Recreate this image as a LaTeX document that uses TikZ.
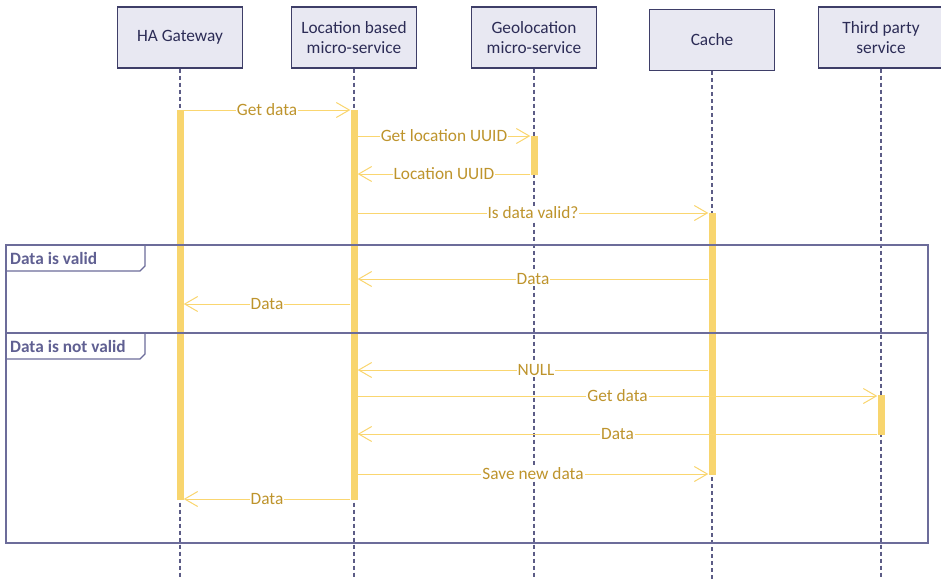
\documentclass[tikz,border=0pt]{standalone}
\usepackage{fontspec}
\setmainfont{Carlito}
\usetikzlibrary{arrows.meta}

\definecolor{hdrfill}{RGB}{232,232,242}
\definecolor{hdrline}{RGB}{62,62,104}
\definecolor{hdrtext}{RGB}{44,44,86}
\definecolor{lifeclr}{RGB}{92,92,134}
\definecolor{actclr}{RGB}{248,213,110}
\definecolor{msgline}{RGB}{250,214,112}
\definecolor{msgtext}{RGB}{190,148,44}
\definecolor{frameclr}{RGB}{108,108,154}
\definecolor{tabtext}{RGB}{96,96,146}

\begin{document}
\begin{tikzpicture}[x=1pt,y=-1pt,
  header/.style={draw=hdrline, fill=hdrfill, line width=1.1pt,
    minimum width=125pt, minimum height=61pt, inner sep=0pt,
    align=center, text=hdrtext, font=\fontsize{17.3}{20}\selectfont},
  lifeline/.style={draw=lifeclr, line width=1.2pt, dash pattern=on 4pt off 3pt},
  actbar/.style={fill=actclr, draw=none, minimum width=7pt, inner sep=0pt, anchor=north},
  msg/.style={draw=msgline, line width=1pt,
    -{Straight Barb[length=13pt,width=15pt,line width=1pt]}},
  msglabel/.style={fill=white, text=msgtext, inner sep=1pt,
    font=\fontsize{17.3}{20}\selectfont},
  frameline/.style={draw=frameclr, line width=1.8pt},
  tablabel/.style={text=tabtext, anchor=west, inner sep=0pt,
    font=\fontsize{17.3}{20}\selectfont\bfseries}
]
\clip (0,0) rectangle (941,579);
\fill[white] (0,0) rectangle (941,579);

% participants
\node[header] (ha)    at (180,37.5) {HA Gateway};
\node[header] (loc)   at (354,37.5) {Location based\\micro-service};
\node[header] (geo)   at (534,37.5) {Geolocation\\micro-service};
\node[header] (cache) at (712,40)   {Cache};
\node[header] (third) at (881,37.5) {Third party\\service};

% lifeline ends
\coordinate (haEnd)    at (180,579);
\coordinate (locEnd)   at (354,579);
\coordinate (geoEnd)   at (534,579);
\coordinate (cacheEnd) at (712,579);
\coordinate (thirdEnd) at (881,579);

\draw[lifeline] (ha.south)    -- (haEnd);
\draw[lifeline] (loc.south)   -- (locEnd);
\draw[lifeline] (geo.south)   -- (geoEnd);
\draw[lifeline] (cache.south) -- (cacheEnd);
\draw[lifeline] (third.south) -- (thirdEnd);

% activation bars
\node[actbar, minimum height=390pt] (haAct)    at (180,110) {};
\node[actbar, minimum height=390pt] (locAct)   at (354,110) {};
\node[actbar, minimum height=39pt]  (geoAct)   at (534,136) {};
\node[actbar, minimum height=262pt] (cacheAct) at (712,213) {};
\node[actbar, minimum height=40pt]  (thirdAct) at (881,395) {};

% combined fragment
\draw[frameline] (6,245) rectangle (928,543);
\draw[frameline] (6,333) -- (928,333);
\draw[frameline, line width=1.2pt] (145,245) -- (145,266) -- (140,271) -- (6,271);
\draw[frameline, line width=1.2pt] (145,333) -- (145,354) -- (140,359) -- (6,359);
\node[tablabel] (validTab)    at (10,258) {Data is valid};
\node[tablabel] (notValidTab) at (10,346) {Data is not valid};

% message rows
\coordinate (m1)  at (0,110);
\coordinate (m2)  at (0,136);
\coordinate (m3)  at (0,174);
\coordinate (m4)  at (0,213);
\coordinate (m5)  at (0,279);
\coordinate (m6)  at (0,304);
\coordinate (m7)  at (0,370);
\coordinate (m8)  at (0,396);
\coordinate (m9)  at (0,434);
\coordinate (m10) at (0,474);
\coordinate (m11) at (0,499);

% messages
\draw[msg] (haAct.east |- m1)    -- node[msglabel] {Get data}          (locAct.west |- m1);
\draw[msg] (locAct.east |- m2)   -- node[msglabel] {Get location UUID} (geoAct.west |- m2);
\draw[msg] (geoAct.west |- m3)   -- node[msglabel] {Location UUID}     (locAct.east |- m3);
\draw[msg] (locAct.east |- m4)   -- node[msglabel] {Is data valid?}    (cacheAct.west |- m4);
\draw[msg] (cacheAct.west |- m5) -- node[msglabel] {Data}              (locAct.east |- m5);
\draw[msg] (locAct.west |- m6)   -- node[msglabel] {Data}              (haAct.east |- m6);
\draw[msg] (cacheAct.west |- m7) -- node[msglabel, xshift=3pt] {NULL}  (locAct.east |- m7);
\draw[msg] (locAct.east |- m8)   -- node[msglabel] {Get data}          (thirdAct.west |- m8);
\draw[msg] (thirdAct.west |- m9) -- node[msglabel] {Data}              (locAct.east |- m9);
\draw[msg] (locAct.east |- m10)  -- node[msglabel] {Save new data}     (cacheAct.west |- m10);
\draw[msg] (locAct.west |- m11)  -- node[msglabel] {Data}              (haAct.east |- m11);
\end{tikzpicture}
\end{document}
